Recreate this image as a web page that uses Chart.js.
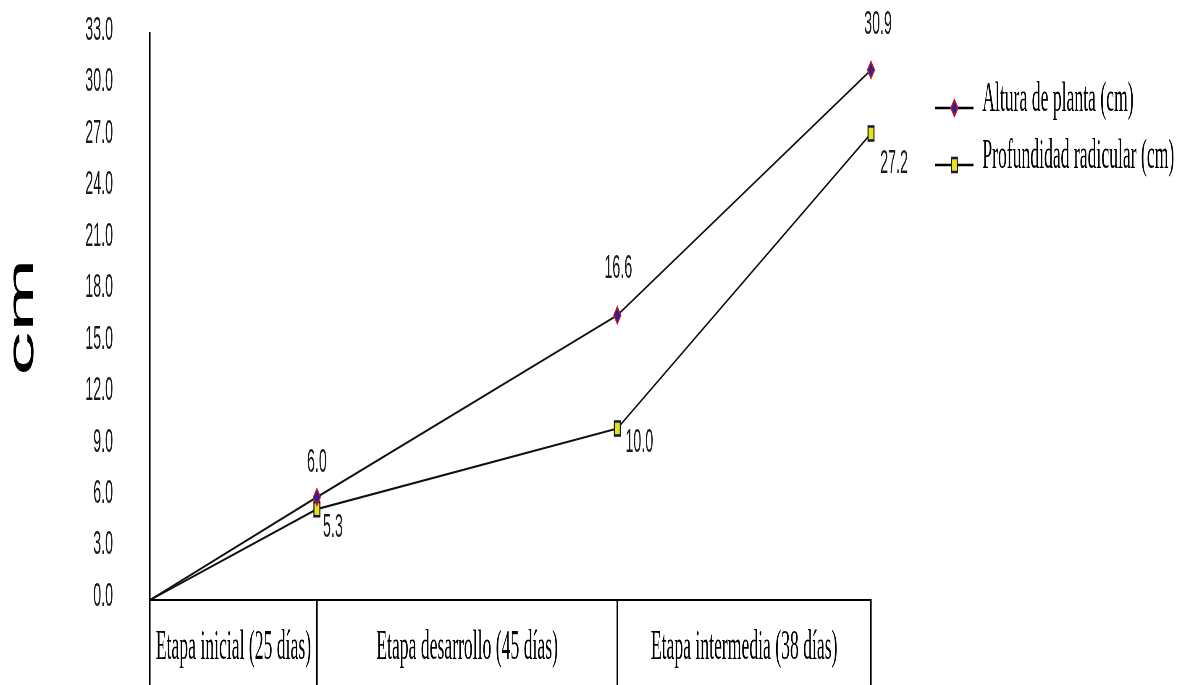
<!DOCTYPE html>
<html lang="es">
<head>
<meta charset="utf-8">
<title>Altura de planta y profundidad radicular</title>
<script src="https://cdn.jsdelivr.net/npm/chart.js@4.4.1/dist/chart.umd.min.js"></script>
<style>
  html, body { margin: 0; padding: 0; background: #fff; overflow: hidden; }
  #frame { position: absolute; left: 0; top: 0; width: 2824px; height: 685px; transform-origin: 0 0; }
  #chart { display: block; width: 2824px; height: 685px; }
</style>
</head>
<body>
<div id="frame"><canvas id="chart" width="2824" height="685"></canvas></div>
<script>
// Growth stages and how many days each one lasts
const stages = ['Etapa inicial (25 días)', 'Etapa desarrollo (45 días)', 'Etapa intermedia (38 días)'];
const stageDays = [25, 45, 38];
// Measurements at sowing and at the end of each stage (cm)
const alturaPlanta = [0, 6.0, 16.6, 30.9];
const profundidadRadicular = [0, 5.3, 10.0, 27.2];
const seriesNames = ['Altura de planta (cm)', 'Profundidad radicular (cm)'];
// Value axis range
const yMin = 0, yMax = 33, yStep = 3;

// The chart is laid out on a wide canvas and squeezed horizontally,
// which gives the condensed lettering of the figure.
const PAGE_W = 1186;
const WIDE_W = 2824;
const SX = PAGE_W / WIDE_W;
const wide = v => v / SX;                 // page px -> canvas px (horizontal only)
document.getElementById('frame').style.transform = `scaleX(${SX})`;

const PLOT_LEFT = wide(150);
const PLOT_RIGHT = wide(871);
const PLOT_TOP = 34;
const AXIS_BAND = 85;
const LEGEND_GAP = 138;

// Stage boundaries on the day axis and the centre of each stage
const dayEdges = stageDays.reduce((acc, d) => { acc.push(acc[acc.length - 1] + d); return acc; }, [0]);
const stageMids = stages.map((_, i) => (dayEdges[i] + dayEdges[i + 1]) / 2);
const xTickValues = [...dayEdges, ...stageMids].sort((a, b) => a - b);

const toPoints = vals => vals.map((v, i) => ({ x: dayEdges[i], y: v }));

// Marker styles
const MARK_A = { fill: '#2a2496', stroke: '#e0161b' };
const MARK_B = { fill: '#e6e214', stroke: '#14143c' };

function drawDiamond(g, x, y, r) {
  g.beginPath();
  g.moveTo(x, y - r); g.lineTo(x + r, y); g.lineTo(x, y + r); g.lineTo(x - r, y);
  g.closePath();
}

// Legend sample: short line with the series marker in the middle
function legendGlyph(kind) {
  const c = document.createElement('canvas');
  c.width = 91; c.height = 44;
  const g = c.getContext('2d');
  const cy = 30;
  g.strokeStyle = '#000'; g.lineWidth = 2.4;
  g.beginPath(); g.moveTo(0, cy); g.lineTo(91, cy); g.stroke();
  if (kind === 'a') {
    drawDiamond(g, 45.5, cy, 8.5);
    g.fillStyle = MARK_A.fill; g.fill();
    g.strokeStyle = MARK_A.stroke; g.lineWidth = 2; g.stroke();
  } else {
    g.fillStyle = MARK_B.fill; g.fillRect(38.5, cy - 7, 14, 14);
    g.strokeStyle = MARK_B.stroke; g.lineWidth = 2.5; g.strokeRect(38.5, cy - 7, 14, 14);
  }
  return c;
}
const glyphs = [legendGlyph('a'), legendGlyph('b')];

// Writes each measured value next to its marker
const valueLabels = {
  id: 'valueLabels',
  afterDatasetsDraw(chart) {
    const { ctx } = chart;
    chart.data.datasets.forEach((ds, di) => {
      const meta = chart.getDatasetMeta(di);
      meta.data.forEach((pt, i) => {
        const off = ds.labelOffsets[i];
        if (!off) return;
        ctx.save();
        ctx.font = '34px "Liberation Sans", Arial, sans-serif';
        ctx.fillStyle = '#1c1c1c';
        ctx.textAlign = 'center';
        ctx.textBaseline = 'middle';
        ctx.fillText(ds.data[i].y.toFixed(1), pt.x + wide(off[0]), pt.y + off[1]);
        ctx.restore();
      });
    });
  }
};

const isEdge = v => dayEdges.includes(v);

const chart = new Chart(document.getElementById('chart'), {
  type: 'line',
  data: {
    datasets: [
      {
        label: seriesNames[0],
        data: toPoints(alturaPlanta),
        borderColor: '#111',
        borderWidth: 2.2,
        tension: 0,
        clip: false,
        pointStyle: 'rectRot',
        pointRadius: alturaPlanta.map((v, i) => i === 0 ? 0 : 8.5),
        pointBackgroundColor: MARK_A.fill,
        pointBorderColor: MARK_A.stroke,
        pointBorderWidth: 2,
        labelOffsets: [null, [0, -34], [1, -47], [7, -45]]
      },
      {
        label: seriesNames[1],
        data: toPoints(profundidadRadicular),
        borderColor: '#111',
        borderWidth: 2.2,
        tension: 0,
        clip: false,
        pointStyle: 'rect',
        pointRadius: profundidadRadicular.map((v, i) => i === 0 ? 0 : 10),
        pointBackgroundColor: MARK_B.fill,
        pointBorderColor: MARK_B.stroke,
        pointBorderWidth: 2.5,
        labelOffsets: [null, [16, 19], [22, 14], [23, 30]]
      }
    ]
  },
  options: {
    responsive: false,
    maintainAspectRatio: false,
    devicePixelRatio: 1,
    animation: false,
    events: [],
    layout: { padding: { top: PLOT_TOP, bottom: 0, left: 0, right: 0 } },
    scales: {
      x: {
        type: 'linear',
        min: dayEdges[0],
        max: dayEdges[dayEdges.length - 1],
        afterBuildTicks: sc => { sc.ticks = xTickValues.map(v => ({ value: v })); },
        afterFit: sc => { sc.height = AXIS_BAND; sc.paddingLeft = 0; sc.paddingRight = 0; },
        grid: {
          display: true,
          drawOnChartArea: false,
          drawTicks: true,
          tickLength: AXIS_BAND,
          lineWidth: 3.5,
          color: c => (c.tick && isEdge(c.tick.value)) ? '#000' : 'rgba(0,0,0,0)'
        },
        border: { display: true, color: '#000', width: 2 },
        ticks: {
          autoSkip: false,
          maxRotation: 0,
          minRotation: 0,
          padding: -62,
          color: '#000',
          font: { family: '"Liberation Serif", "Times New Roman", serif', size: 42 },
          callback: v => {
            const k = stageMids.indexOf(v);
            return k >= 0 ? stages[k] : '';
          }
        }
      },
      y: {
        position: 'left',
        min: yMin,
        max: yMax,
        afterFit: sc => { sc.width = PLOT_LEFT; sc.paddingTop = 0; sc.paddingBottom = 0; },
        grid: { display: false, drawTicks: false },
        border: { display: true, color: '#000', width: 3.5 },
        ticks: {
          stepSize: yStep,
          padding: 88,
          labelOffset: -3.5,
          color: '#1a1a1a',
          font: { family: '"Liberation Sans", Arial, sans-serif', size: 34 },
          callback: v => v.toFixed(1)
        },
        title: {
          display: true,
          text: 'cm',
          color: '#000',
          padding: { top: 2, bottom: 0 },
          font: { family: '"Liberation Sans", Arial, sans-serif', size: 88 }
        }
      },
      yGap: {
        type: 'linear',
        position: 'right',
        display: true,
        grid: { display: false, drawTicks: false },
        border: { display: false },
        ticks: { display: false },
        afterFit: sc => { sc.width = LEGEND_GAP; sc.paddingTop = 0; sc.paddingBottom = 0; }
      }
    },
    plugins: {
      legend: {
        display: true,
        position: 'right',
        align: 'start',
        fullSize: false,
        maxWidth: 1400,
        title: { display: true, text: '', padding: { top: 29, bottom: 0 }, font: { size: 1, lineHeight: 1 } },
        labels: {
          usePointStyle: true,
          pointStyleWidth: 91,
          padding: 15,
          color: '#000',
          font: { family: '"Liberation Serif", "Times New Roman", serif', size: 42 },
          generateLabels: chart => chart.data.datasets.map((ds, i) => ({
            text: ds.label,
            pointStyle: glyphs[i],
            fillStyle: '#000',
            strokeStyle: '#000',
            lineWidth: 0,
            fontColor: '#000',
            hidden: false,
            datasetIndex: i
          }))
        }
      },
      tooltip: { enabled: false }
    }
  },
  plugins: [valueLabels]
});

// The legend keeps its natural width; the right padding is set so that
// the plot area ends at the last stage boundary.
chart.options.layout.padding.right = Math.max(0, WIDE_W - PLOT_RIGHT - LEGEND_GAP - chart.legend.width);
chart.update();
</script>
</body>
</html>
